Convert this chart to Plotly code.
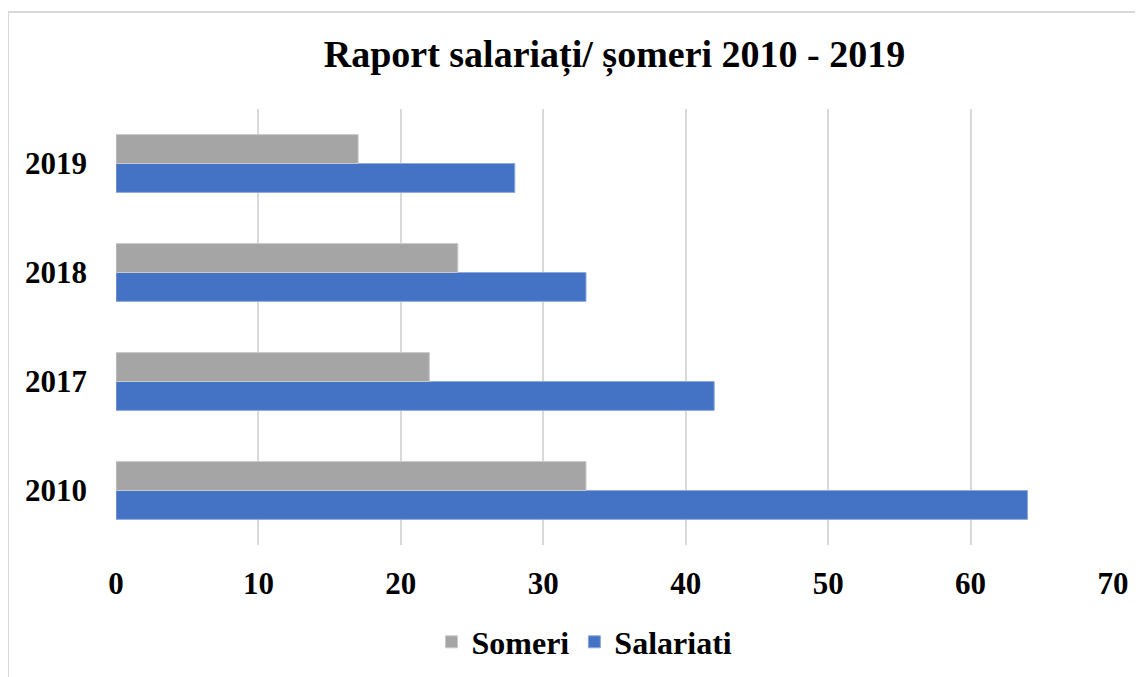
import plotly.graph_objects as go

years = ["2010", "2017", "2018", "2019"]
someri = [33, 22, 24, 17]
salariati = [64, 42, 33, 28]
x_ticks = [0, 10, 20, 30, 40, 50, 60, 70]

# page body has an 8px margin, so the figure is offset by 8px
OFF = 8
W, H = 1143 - OFF, 677 - OFF
L, R, T, B = 116 - OFF, 1143 - 1113, 109 - OFF, 677 - 545
pw, ph = W - L - R, H - T - B

def px_x(p):
    return (p - OFF - L) / pw

def px_y(p):
    return (H - B - (p - OFF)) / ph

font_family = "Liberation Serif, Times New Roman, serif"

fig = go.Figure()
fig.add_trace(go.Bar(
    y=years, x=salariati, name="<b>Salariati</b>", orientation="h",
    marker=dict(color="#4472C4", line=dict(color="#8FAADC", width=1)),
))
fig.add_trace(go.Bar(
    y=years, x=someri, name="<b>Someri</b>", orientation="h",
    marker=dict(color="#A5A5A5", line=dict(color="#C9C9C9", width=1)),
))

fig.update_layout(
    width=W, height=H,
    margin=dict(l=L, r=R, t=T, b=B),
    paper_bgcolor="white", plot_bgcolor="white",
    barmode="group", bargap=0.47, bargroupgap=0,
    font=dict(family=font_family, color="black"),
    title=dict(
        text="<b>Raport salariați/ șomeri 2010 - 2019</b>",
        x=0.5, xref="paper", xanchor="center",
        y=1 - (54 - OFF) / H, yanchor="middle",
        font=dict(size=38, family=font_family, color="black"),
    ),
    xaxis=dict(
        range=[0, 70], tickvals=x_ticks, ticktext=[f"<b>{v}</b>" for v in x_ticks],
        showgrid=True, gridcolor="#D9D9D9", gridwidth=2,
        zeroline=False, showline=False, ticks="",
        tickfont=dict(size=31, family=font_family, color="black"),
        ticklabelstandoff=17,
    ),
    yaxis=dict(
        categoryorder="array", categoryarray=years,
        tickvals=years, ticktext=[f"<b>{y}</b>" for y in years],
        showgrid=False, zeroline=False, showline=False, ticks="",
        tickfont=dict(size=31, family=font_family, color="black"),
        ticklabelstandoff=28,
    ),
    legend=dict(
        orientation="h", x=0.5 + 9 / W, xanchor="center", xref="container",
        y=1 - (642 - OFF) / H, yref="container", yanchor="middle",
        traceorder="reversed",
        font=dict(size=32, family=font_family, color="black"),
        itemwidth=30,
    ),
    shapes=[dict(
        type="rect", xref="paper", yref="paper",
        x0=px_x(8), x1=px_x(1170), y0=px_y(720), y1=px_y(12),
        line=dict(color="#D9D9D9", width=2), fillcolor="rgba(0,0,0,0)",
        layer="below",
    )],
)

fig.write_html("out.html")
